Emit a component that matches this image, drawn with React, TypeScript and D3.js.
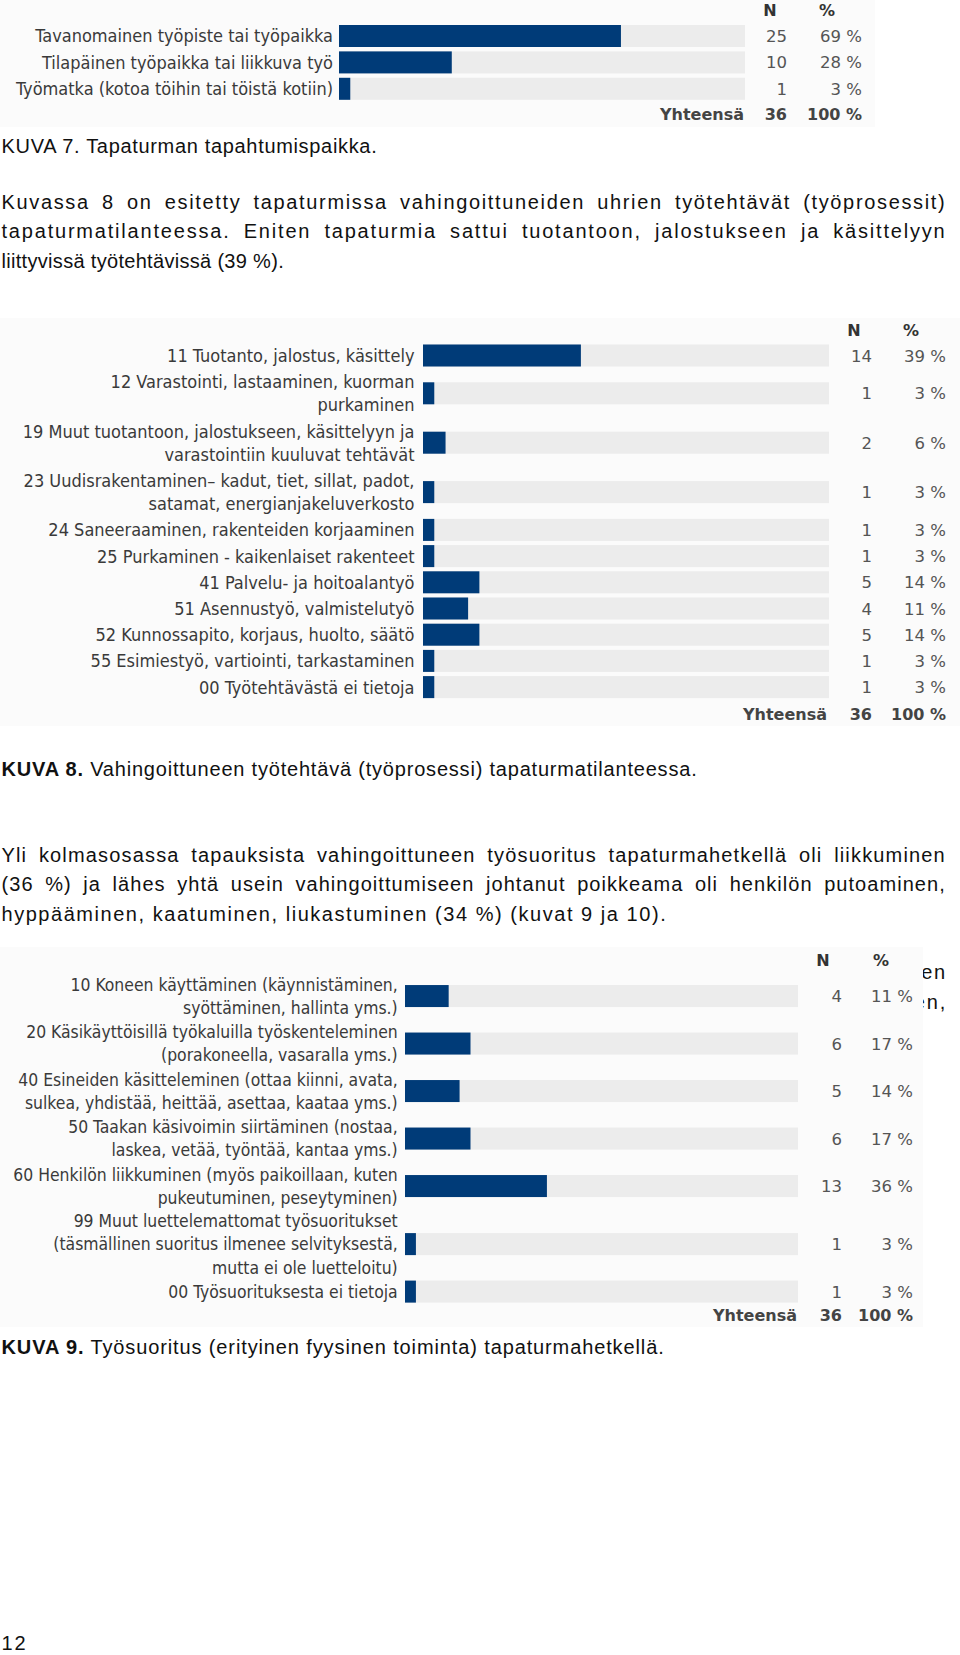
import { useEffect, useRef } from 'react';
import * as d3 from 'd3';

// KUVA 7 – tapahtumispaikka
const placeLabels: string[][] = [
  ['Tavanomainen työpiste tai työpaikka'],
  ['Tilapäinen työpaikka tai liikkuva työ'],
  ['Työmatka (kotoa töihin tai töistä kotiin)'],
];
const placeN = [25, 10, 1];
const placePct = [69, 28, 3];

// KUVA 8 – työtehtävä
const taskLabels: string[][] = [
  ['11 Tuotanto, jalostus, käsittely'],
  ['12 Varastointi, lastaaminen, kuorman', 'purkaminen'],
  ['19 Muut tuotantoon, jalostukseen, käsittelyyn ja', 'varastointiin kuuluvat tehtävät'],
  ['23 Uudisrakentaminen– kadut, tiet, sillat, padot,', 'satamat, energianjakeluverkosto'],
  ['24 Saneeraaminen, rakenteiden korjaaminen'],
  ['25 Purkaminen - kaikenlaiset rakenteet'],
  ['41 Palvelu- ja hoitoalantyö'],
  ['51 Asennustyö, valmistelutyö'],
  ['52 Kunnossapito, korjaus, huolto, säätö'],
  ['55 Esimiestyö, vartiointi, tarkastaminen'],
  ['00 Työtehtävästä ei tietoja'],
];
const taskN = [14, 1, 2, 1, 1, 1, 5, 4, 5, 1, 1];
const taskPct = [39, 3, 6, 3, 3, 3, 14, 11, 14, 3, 3];

// KUVA 9 – työsuoritus
const actLabels: string[][] = [
  ['10 Koneen käyttäminen (käynnistäminen,', 'syöttäminen, hallinta yms.)'],
  ['20 Käsikäyttöisillä työkaluilla työskenteleminen', '(porakoneella, vasaralla yms.)'],
  ['40 Esineiden käsitteleminen (ottaa kiinni, avata,', 'sulkea, yhdistää, heittää, asettaa, kaataa yms.)'],
  ['50 Taakan käsivoimin siirtäminen (nostaa,', 'laskea, vetää, työntää, kantaa yms.)'],
  ['60 Henkilön liikkuminen (myös paikoillaan, kuten', 'pukeutuminen, peseytyminen)'],
  ['99 Muut luettelemattomat työsuoritukset', '(täsmällinen suoritus ilmenee selvityksestä,', 'mutta ei ole luetteloitu)'],
  ['00 Työsuorituksesta ei tietoja'],
];
const actN = [4, 6, 5, 6, 13, 1, 1];
const actPct = [11, 17, 14, 17, 36, 3, 3];

const TOTAL_N = 36;
const TOTAL_PCT = 100;

const NAVY = '#003b78';
const TRACK = '#ececec';
const LABEL_FONT = '"DejaVu Sans Condensed", "DejaVu Sans", sans-serif';
const NUM_FONT = '"DejaVu Sans", Verdana, sans-serif';
const BODY_FONT = '"Liberation Sans", Arial, sans-serif';
const BODY_SIZE = 20;
const BODY_TRACKING = 1.8;
const MIN_WORD_GAP = 5;

interface TableCfg {
  bg: [number, number, number, number];
  labelRight: number;
  labelSize: number;
  trackX: number;
  trackW: number;
  nRight: number;
  pctRight: number;
  headN: number;
  headPct: number;
  headY: number;
  firstTop: number;
  rowLine: number;
  rowPad: number;
  textLine: number;
  barH: number;
  totalY: number;
  totalLabelRight: number;
}

function drawTable(
  root: d3.Selection<SVGGElement, unknown, null, undefined>,
  cfg: TableCfg,
  labels: string[][],
  ns: number[],
  pcts: number[],
) {
  const g = root.append('g');
  const x = d3.scaleLinear().domain([0, TOTAL_N]).range([cfg.trackX, cfg.trackX + cfg.trackW]);

  g.append('rect')
    .attr('x', cfg.bg[0])
    .attr('y', cfg.bg[1])
    .attr('width', cfg.bg[2])
    .attr('height', cfg.bg[3])
    .attr('fill', '#fbfbfb');

  // headers
  [['N', cfg.headN], ['%', cfg.headPct]].forEach(([t, hx]) => {
    g.append('text')
      .attr('x', hx as number)
      .attr('y', cfg.headY + 6)
      .attr('text-anchor', 'middle')
      .attr('font-family', NUM_FONT)
      .attr('font-weight', 'bold')
      .attr('font-size', 16)
      .attr('fill', '#333')
      .text(t as string);
  });

  let top = cfg.firstTop;
  labels.forEach((lines, i) => {
    const h = lines.length * cfg.rowLine + cfg.rowPad;
    const cy = top + h / 2;

    g.append('rect')
      .attr('x', x(0))
      .attr('y', cy - cfg.barH / 2)
      .attr('width', x(TOTAL_N) - x(0))
      .attr('height', cfg.barH)
      .attr('fill', TRACK);
    g.append('rect')
      .attr('x', x(0))
      .attr('y', cy - cfg.barH / 2)
      .attr('width', x(ns[i]) - x(0))
      .attr('height', cfg.barH)
      .attr('fill', NAVY);

    lines.forEach((ln, j) => {
      g.append('text')
        .attr('x', cfg.labelRight)
        .attr('y', cy + (j - (lines.length - 1) / 2) * cfg.textLine + cfg.labelSize * 0.36)
        .attr('text-anchor', 'end')
        .attr('font-family', LABEL_FONT)
        .attr('font-stretch', 'condensed')
        .attr('font-size', cfg.labelSize)
        .attr('fill', '#3a3a3a')
        .text(ln);
    });

    g.append('text')
      .attr('x', cfg.nRight)
      .attr('y', cy + 6)
      .attr('text-anchor', 'end')
      .attr('font-family', NUM_FONT)
      .attr('font-size', 16.5)
      .attr('fill', '#555')
      .text(ns[i]);
    g.append('text')
      .attr('x', cfg.pctRight)
      .attr('y', cy + 6)
      .attr('text-anchor', 'end')
      .attr('font-family', NUM_FONT)
      .attr('font-size', 16.5)
      .attr('fill', '#555')
      .text(`${pcts[i]} %`);

    top += h;
  });

  // totals row
  const tot: [string, number][] = [
    ['Yhteensä', cfg.totalLabelRight],
    [String(TOTAL_N), cfg.nRight],
    [`${TOTAL_PCT} %`, cfg.pctRight],
  ];
  tot.forEach(([t, tx]) => {
    g.append('text')
      .attr('x', tx)
      .attr('y', cfg.totalY + 6)
      .attr('text-anchor', 'end')
      .attr('font-family', NUM_FONT)
      .attr('font-weight', 'bold')
      .attr('font-size', 16)
      .attr('fill', '#444')
      .text(t);
  });
}

interface BodyLine {
  y: number;
  bold?: string;
  text: string;
  width?: number;
  justify?: boolean;
  x?: number;
  anchor?: string;
}

const bodyLines: BodyLine[] = [
  { y: 145.5, text: 'KUVA 7. Tapaturman tapahtumispaikka.', width: 377 },
  { y: 201.5, text: 'Kuvassa 8 on esitetty tapaturmissa vahingoittuneiden uhrien työtehtävät (työprosessit)', width: 945, justify: true },
  { y: 231, text: 'tapaturmatilanteessa. Eniten tapaturmia sattui tuotantoon, jalostukseen ja käsittelyyn', width: 945, justify: true },
  { y: 260.5, text: 'liittyvissä työtehtävissä (39 %).', width: 284 },
  { y: 769, bold: 'KUVA 8.', text: ' Vahingoittuneen työtehtävä (työprosessi) tapaturmatilanteessa.', width: 697 },
  { y: 854.5, text: 'Yli kolmasosassa tapauksista vahingoittuneen työsuoritus tapaturmahetkellä oli liikkuminen', width: 945, justify: true },
  { y: 884, text: '(36 %) ja lähes yhtä usein vahingoittumiseen johtanut poikkeama oli henkilön putoaminen,', width: 945, justify: true },
  { y: 913.5, text: 'hyppääminen, kaatuminen, liukastuminen (34 %) (kuvat 9 ja 10).', width: 666 },
  { y: 971.5, text: 'en', x: 947, anchor: 'end' },
  { y: 1002, text: 'en,', x: 947, anchor: 'end' },
  { y: 1347, bold: 'KUVA 9.', text: ' Työsuoritus (erityinen fyysinen toiminta) tapaturmahetkellä.', width: 664 },
  { y: 1643, text: '12' },
];

export default function App() {
  const svgRef = useRef<SVGSVGElement>(null);

  useEffect(() => {
    if (!svgRef.current) return;
    const svg = d3.select(svgRef.current);
    svg.selectAll('*').remove();

    svg.append('rect').attr('width', 960).attr('height', 1655).attr('fill', '#fff');

    // body text: justified lines get word spacing, short lines get tracking
    bodyLines.forEach((b) => {
      const t = svg
        .append('text')
        .attr('x', b.x ?? 1.5)
        .attr('y', b.y + 7)
        .attr('text-anchor', b.anchor ?? 'start')
        .attr('font-family', BODY_FONT)
        .attr('font-size', BODY_SIZE)
        .attr('letter-spacing', BODY_TRACKING)
        .attr('fill', '#111');
      if (b.bold) t.append('tspan').attr('font-weight', 'bold').text(b.bold);
      t.append('tspan').text(b.text);

      if (b.width) {
        const node = t.node() as SVGTextElement;
        const natural = node.getComputedTextLength();
        const full = (b.bold ?? '') + b.text;
        const gaps = Math.max(1, full.length - 1);
        if (b.justify) {
          const spaces = (full.match(/ /g) || []).length;
          let ws = (b.width - natural) / spaces;
          if (ws < MIN_WORD_GAP) {
            ws = MIN_WORD_GAP;
            const ls = BODY_TRACKING + (b.width - natural - ws * spaces) / gaps;
            t.attr('letter-spacing', ls);
          }
          t.attr('word-spacing', ws);
        } else {
          const extra = (b.width - natural) / gaps;
          t.attr('letter-spacing', BODY_TRACKING + extra);
        }
      }
    });

    const root = svg.append('g');

    drawTable(root, {
      bg: [0, 0, 875, 127],
      labelRight: 333,
      labelSize: 18,
      trackX: 339,
      trackW: 406,
      nRight: 787,
      pctRight: 862,
      headN: 770,
      headPct: 827,
      headY: 10,
      firstTop: 22.8,
      rowLine: 23.2,
      rowPad: 3.2,
      textLine: 23.2,
      barH: 22,
      totalY: 114,
      totalLabelRight: 744,
    }, placeLabels, placeN, placePct);

    drawTable(root, {
      bg: [0, 318, 960, 408],
      labelRight: 414.5,
      labelSize: 18,
      trackX: 423,
      trackW: 406,
      nRight: 872,
      pctRight: 946,
      headN: 854,
      headPct: 911,
      headY: 330,
      firstTop: 342.4,
      rowLine: 23.2,
      rowPad: 3.0,
      textLine: 23.2,
      barH: 22,
      totalY: 714,
      totalLabelRight: 827,
    }, taskLabels, taskN, taskPct);

    drawTable(root, {
      bg: [0, 947, 923, 380],
      labelRight: 397.7,
      labelSize: 17.4,
      trackX: 405,
      trackW: 393,
      nRight: 842,
      pctRight: 913,
      headN: 823,
      headPct: 881,
      headY: 960,
      firstTop: 972.3,
      rowLine: 21.1,
      rowPad: 5.3,
      textLine: 23.2,
      barH: 22,
      totalY: 1315,
      totalLabelRight: 797,
    }, actLabels, actN, actPct);
  }, []);

  return (
    <svg
      ref={svgRef}
      width={960}
      height={1655}
      style={{ position: 'absolute', left: 0, top: 0 }}
    />
  );
}
